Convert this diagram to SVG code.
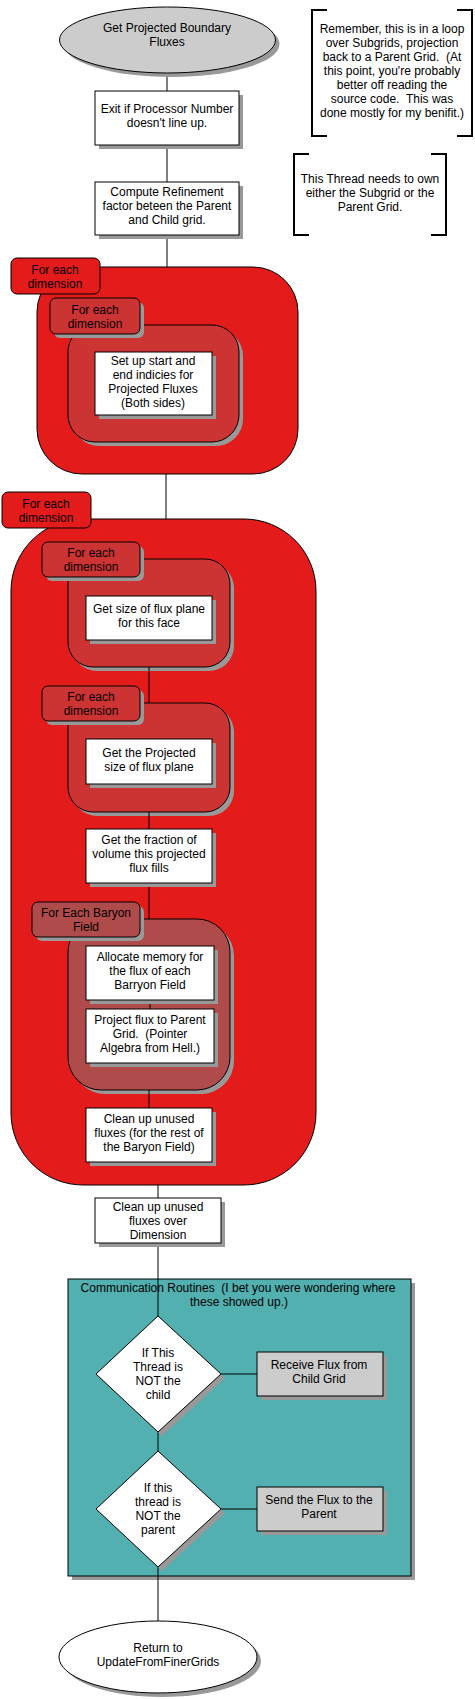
<svg xmlns="http://www.w3.org/2000/svg" width="475" height="1699" viewBox="0 0 475 1699">
<style>
text{font-family:"Liberation Sans",Arial,sans-serif;font-size:12px;fill:#000;text-anchor:middle;white-space:pre}
.box{fill:#fff;stroke:#000;stroke-width:1}
.gbox{fill:#cccccc;stroke:#000;stroke-width:1}
.sh{fill:#999999;stroke:none}
.red{fill:#e31b1b;stroke:#000;stroke-width:1}
.red2{fill:#cc3333;stroke:#000;stroke-width:1}
.bar{fill:#b04b4b;stroke:#000;stroke-width:1}
.teal{fill:#52b0b0;stroke:#000;stroke-width:1}
.br{fill:none;stroke:#000;stroke-width:2}
.ln{stroke:#000;stroke-width:1;fill:none}
</style>
<rect width="475" height="1699" fill="#fff"/>

<!-- notes -->
<g id="note1">
<path class="br" d="M327,10 H312 V136 H327 M457,10 H472 V136 H457"/>
<text x="392" y="33">Remember, this is in a loop</text>
<text x="392" y="47">over Subgrids, projection</text>
<text x="392" y="61" xml:space="preserve">back to a Parent Grid.  (At</text>
<text x="392" y="75">this point, you're probably</text>
<text x="392" y="89">better off reading the</text>
<text x="392" y="103" xml:space="preserve">source code.  This was</text>
<text x="392" y="117">done mostly for my benifit.)</text>
</g>
<g id="note2">
<path class="br" d="M309,154 H294 V235 H309 M431,154 H446 V235 H431"/>
<text x="370" y="183">This Thread needs to own</text>
<text x="370" y="197">either the Subgrid or the</text>
<text x="370" y="211">Parent Grid.</text>
</g>

<!-- containers -->
<g id="loop1">
<rect class="red" x="37" y="267" width="261" height="207" rx="45"/>
<rect class="red" x="11" y="258" width="89" height="36" rx="6"/>
<text x="55" y="274">For each</text>
<text x="55" y="288">dimension</text>
</g>
<g id="loop1a">
<rect class="sh" x="72" y="329" width="171" height="117" rx="27"/>
<rect class="red2" x="68" y="325" width="171" height="117" rx="27"/>
<rect class="sh" x="54" y="302" width="90" height="36" rx="6"/>
<rect class="red2" x="50" y="298" width="90" height="36" rx="6"/>
<text x="95" y="314">For each</text>
<text x="95" y="328">dimension</text>
</g>
<g id="loop2">
<rect class="red" x="11" y="519" width="305" height="666" rx="72"/>
<rect class="red" x="2" y="492" width="89" height="36" rx="6"/>
<text x="46" y="508">For each</text>
<text x="46" y="522">dimension</text>
</g>
<g id="loop2a">
<rect class="sh" x="72" y="563" width="162" height="108" rx="25"/>
<rect class="red2" x="68" y="559" width="162" height="108" rx="25"/>
<rect class="sh" x="46" y="546" width="98" height="35" rx="6"/>
<rect class="red2" x="42" y="542" width="98" height="35" rx="6"/>
<text x="91" y="557">For each</text>
<text x="91" y="571">dimension</text>
</g>
<g id="loop2b">
<rect class="sh" x="72" y="707" width="162" height="109" rx="25"/>
<rect class="red2" x="68" y="703" width="162" height="109" rx="25"/>
<rect class="sh" x="46" y="690" width="98" height="35" rx="6"/>
<rect class="red2" x="42" y="686" width="98" height="35" rx="6"/>
<text x="91" y="701">For each</text>
<text x="91" y="715">dimension</text>
</g>
<g id="loop2c">
<rect class="sh" x="72" y="923" width="162" height="171" rx="33"/>
<rect class="bar" x="68" y="919" width="162" height="171" rx="33"/>
<rect class="sh" x="36" y="906" width="108" height="35" rx="6"/>
<rect class="bar" x="32" y="902" width="108" height="35" rx="6"/>
<text x="86" y="917">For Each Baryon</text>
<text x="86" y="931">Field</text>
</g>
<g id="comm">
<rect class="sh" x="72" y="1283" width="343" height="297"/>
<rect class="teal" x="68" y="1279" width="343" height="297"/>
<text x="238" y="1292" xml:space="preserve">Communication Routines  (I bet you were wondering where</text>
<text x="239" y="1306">these showed up.)</text>
</g>

<!-- connectors -->
<g id="connectors" class="ln">
<path d="M167,73 V91 M167,145 V182 M167,235 V267 M166,474 V519 M149,667 V703 M149,812 V829 M149,883 V919 M150,1000 V1009 M149,1090 V1108 M158,1185 V1198 M158,1243 V1316 M221,1374 H257 M158,1432 V1451 M221,1509 H257 M158,1567 V1621"/>
</g>

<!-- nodes -->
<g id="start">
<ellipse class="sh" cx="171.5" cy="44" rx="108" ry="33"/>
<ellipse class="gbox" cx="167.5" cy="40" rx="108" ry="33"/>
<text x="167" y="32">Get Projected Boundary</text>
<text x="167" y="46">Fluxes</text>
</g>
<g id="exit">
<rect class="sh" x="99" y="95" width="144" height="54"/>
<rect class="box" x="95" y="91" width="144" height="54"/>
<text x="167" y="113">Exit if Processor Number</text>
<text x="167" y="127">doesn't line up.</text>
</g>
<g id="refine">
<rect class="sh" x="99" y="186" width="144" height="53"/>
<rect class="box" x="95" y="182" width="144" height="53"/>
<text x="167" y="196">Compute Refinement</text>
<text x="167" y="210">factor beteen the Parent</text>
<text x="167" y="224">and Child grid.</text>
</g>
<g id="setup">
<rect class="sh" x="99" y="356" width="117" height="63"/>
<rect class="box" x="95" y="352" width="117" height="63"/>
<text x="153" y="365">Set up start and</text>
<text x="153" y="379">end indicies for</text>
<text x="153" y="393">Projected Fluxes</text>
<text x="153" y="407">(Both sides)</text>
</g>
<g id="fluxsize">
<rect class="sh" x="90" y="600" width="126" height="44"/>
<rect class="box" x="86" y="596" width="126" height="44"/>
<text x="149" y="613">Get size of flux plane</text>
<text x="149" y="627">for this face</text>
</g>
<g id="projsize">
<rect class="sh" x="90" y="743" width="126" height="45"/>
<rect class="box" x="86" y="739" width="126" height="45"/>
<text x="149" y="757">Get the Projected</text>
<text x="149" y="771">size of flux plane</text>
</g>
<g id="fraction">
<rect class="sh" x="90" y="833" width="126" height="54"/>
<rect class="box" x="86" y="829" width="126" height="54"/>
<text x="149" y="844">Get the fraction of</text>
<text x="149" y="858">volume this projected</text>
<text x="149" y="872">flux fills</text>
</g>
<g id="alloc">
<rect class="sh" x="90" y="950" width="128" height="54"/>
<rect class="box" x="86" y="946" width="128" height="54"/>
<text x="150" y="961">Allocate memory for</text>
<text x="150" y="975">the flux of each</text>
<text x="150" y="989">Barryon Field</text>
</g>
<g id="project">
<rect class="sh" x="90" y="1013" width="128" height="54"/>
<rect class="box" x="86" y="1009" width="128" height="54"/>
<text x="150" y="1024">Project flux to Parent</text>
<text x="150" y="1038" xml:space="preserve">Grid.  (Pointer</text>
<text x="150" y="1052">Algebra from Hell.)</text>
</g>
<g id="cleanup1">
<rect class="sh" x="90" y="1112" width="126" height="54"/>
<rect class="box" x="86" y="1108" width="126" height="54"/>
<text x="149" y="1123">Clean up unused</text>
<text x="149" y="1137">fluxes (for the rest of</text>
<text x="149" y="1151">the Baryon Field)</text>
</g>
<g id="cleanup2">
<rect class="sh" x="99" y="1202" width="126" height="45"/>
<rect class="box" x="95" y="1198" width="126" height="45"/>
<text x="158" y="1211">Clean up unused</text>
<text x="158" y="1225">fluxes over</text>
<text x="158" y="1239">Dimension</text>
</g>
<g id="dec1">
<polygon class="sh" points="162,1320 225,1378 162,1436 100,1378"/>
<polygon class="box" points="158,1316 221,1374 158,1432 96,1374"/>
<text x="158" y="1357">If This</text>
<text x="158" y="1371">Thread is</text>
<text x="158" y="1385">NOT the</text>
<text x="158" y="1399">child</text>
</g>
<g id="receive">
<rect class="sh" x="261" y="1356" width="126" height="44"/>
<rect class="gbox" x="257" y="1352" width="126" height="44"/>
<text x="319" y="1369">Receive Flux from</text>
<text x="319" y="1383">Child Grid</text>
</g>
<g id="dec2">
<polygon class="sh" points="162,1455 225,1513 162,1571 100,1513"/>
<polygon class="box" points="158,1451 221,1509 158,1567 96,1509"/>
<text x="158" y="1492">If this</text>
<text x="158" y="1506">thread is</text>
<text x="158" y="1520">NOT the</text>
<text x="158" y="1534">parent</text>
</g>
<g id="send">
<rect class="sh" x="261" y="1491" width="126" height="44"/>
<rect class="gbox" x="257" y="1487" width="126" height="44"/>
<text x="319" y="1504">Send the Flux to the</text>
<text x="319" y="1518">Parent</text>
</g>
<g id="end">
<ellipse class="sh" cx="162" cy="1661" rx="99" ry="36"/>
<ellipse class="box" cx="158" cy="1657" rx="99" ry="36"/>
<text x="158" y="1652">Return to</text>
<text x="158" y="1666">UpdateFromFinerGrids</text>
</g>
</svg>
